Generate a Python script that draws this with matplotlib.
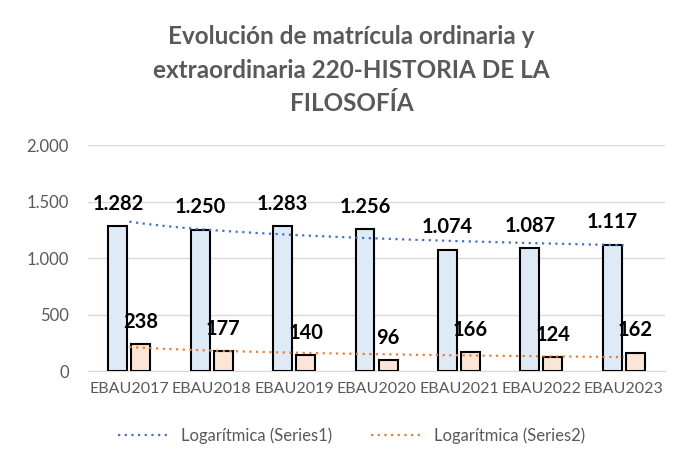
import numpy as np
import matplotlib
matplotlib.use("Agg")
import matplotlib.pyplot as plt

categories = ["EBAU2017", "EBAU2018", "EBAU2019", "EBAU2020", "EBAU2021", "EBAU2022", "EBAU2023"]
series1 = [1282, 1250, 1283, 1256, 1074, 1087, 1117]
series2 = [238, 177, 140, 96, 166, 124, 162]
ytick_vals = [0, 500, 1000, 1500, 2000]
ytick_labels = ["0", "500", "1.000", "1.500", "2.000"]
title = "Evolución de matrícula ordinaria y\nextraordinaria 220-HISTORIA DE LA\nFILOSOFÍA"
legend_labels = ["Logarítmica (Series1)", "Logarítmica (Series2)"]

def fmt(v):
    return f"{v:,}".replace(",", ".")

plt.rcParams['font.family'] = ['Lato', 'DejaVu Sans']
fig = plt.figure(figsize=(6.89, 4.61), dpi=100)
ax = fig.add_axes([0.128, 0.195, 0.837, 0.49])

x = np.arange(len(categories))
w = 0.23
gap = 0.025
ax.bar(x - w / 2 - gap, series1, w, color="#DEEBF7", edgecolor="black", linewidth=1.5, zorder=3)
ax.bar(x + w / 2 + gap, series2, w, color="#FBE5D6", edgecolor="black", linewidth=1.5, zorder=3)

for xi, v in zip(x, series1):
    ax.annotate(fmt(v), (xi - w / 2 - gap, v), xytext=(0, 9), textcoords="offset points",
                ha="center", va="bottom", fontsize=14.5, fontweight="bold", color="black", zorder=5)
for xi, v in zip(x, series2):
    ax.annotate(fmt(v), (xi + w / 2 + gap, v), xytext=(0, 9), textcoords="offset points",
                ha="center", va="bottom", fontsize=14.5, fontweight="bold", color="black", zorder=5)

# logarithmic trendlines (least squares fit of y = a*ln(n) + b)
n = np.arange(1, len(categories) + 1)
xs = np.linspace(1, len(categories), 200)
for s, c, lab in [(series1, "#4472C4", legend_labels[0]), (series2, "#ED7D31", legend_labels[1])]:
    a, b = np.polyfit(np.log(n), s, 1)
    ax.plot(xs - 1, a * np.log(xs) + b, linestyle=(0, (1, 2)), color=c, linewidth=1.6, label=lab, zorder=4)

ax.set_ylim(0, 2000)
ax.set_xlim(-0.5, len(categories) - 0.5)
ax.set_yticks(ytick_vals)
ax.set_yticklabels(ytick_labels)
ax.set_xticks(x)
ax.set_xticklabels(categories)
ax.tick_params(axis="y", length=0, labelsize=12, colors="#595959", pad=14)
ax.tick_params(axis="x", length=0, labelsize=11.5, colors="#595959", pad=8)
ax.grid(axis="y", color="#D9D9D9", linewidth=1, zorder=0)
for sp in ["top", "right", "left"]:
    ax.spines[sp].set_visible(False)
ax.spines["bottom"].set_color("#D9D9D9")

fig.text(0.51, 0.945, title, ha="center", va="top", fontsize=17.5, fontweight="bold",
         color="#595959", linespacing=1.55)

fig.legend(loc="center", bbox_to_anchor=(0.51, 0.055), ncol=2, frameon=False, fontsize=12,
           labelcolor="#595959", handlelength=3, columnspacing=2.3)

fig.savefig("out.png", dpi=100)
